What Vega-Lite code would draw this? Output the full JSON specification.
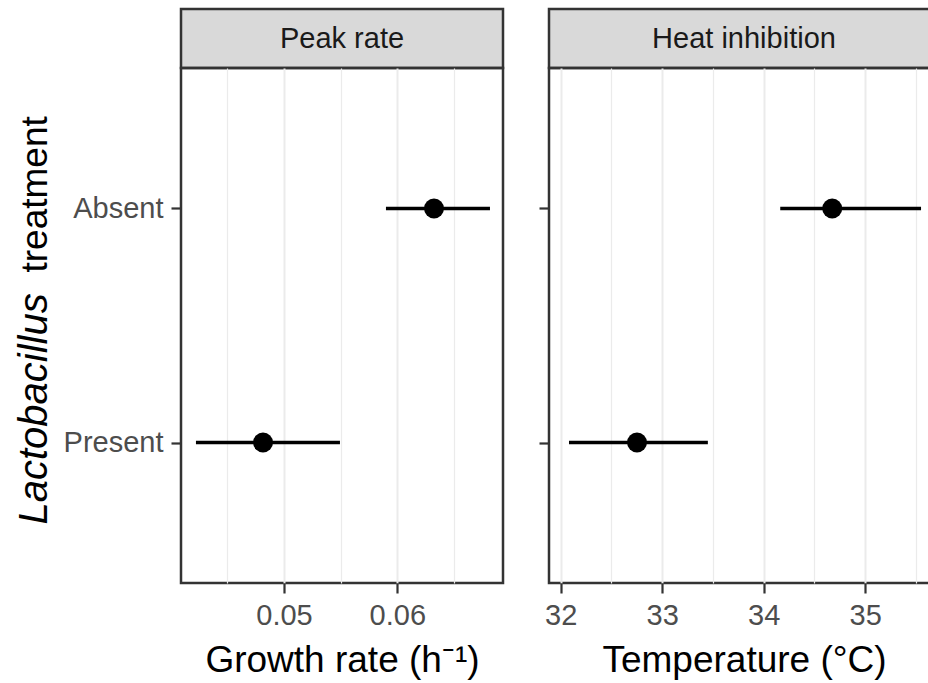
{
  "$schema": "https://vega.github.io/schema/vega-lite/v6.json",
  "padding": {"left": 12, "top": 7, "right": 0, "bottom": 5},
  "background": "white",
  "spacing": 31,
  "config": {
    "font": "Liberation Sans",
    "axis": {
      "labelFont": "Liberation Sans",
      "titleFont": "Liberation Sans",
      "labelFontSize": 29,
      "labelColor": "#4d4d4d",
      "titleFontSize": 37,
      "titleColor": "#000000",
      "titleFontWeight": "normal",
      "tickColor": "#333333",
      "tickWidth": 2.2,
      "tickSize": 10,
      "labelPadding": 8,
      "domain": false,
      "gridColor": "#ebebeb",
      "gridWidth": 2
    },
    "view": {"stroke": "#333333", "strokeWidth": 2.5}
  },
  "datasets": {
    "peak": [
      {"treatment": "Absent", "estimate": 0.06324, "lower": 0.05900, "upper": 0.06818},
      {"treatment": "Present", "estimate": 0.04815, "lower": 0.04223, "upper": 0.05494}
    ],
    "heat": [
      {"treatment": "Absent", "estimate": 34.675, "lower": 34.163, "upper": 35.55},
      {"treatment": "Present", "estimate": 32.752, "lower": 32.082, "upper": 33.45}
    ],
    "strip1": [{"panel": "Peak rate"}],
    "strip2": [{"panel": "Heat inhibition"}]
  },
  "hconcat": [
    {
      "bounds": "flush",
      "spacing": 0,
      "vconcat": [
        {
          "width": 322,
          "height": 59,
          "data": {"name": "strip1"},
          "view": {"fill": "#d9d9d9", "stroke": "#333333", "strokeWidth": 2.5},
          "mark": {"type": "text", "fontSize": 29, "color": "#1a1a1a", "font": "Liberation Sans", "baseline": "middle"},
          "encoding": {
            "text": {"field": "panel"},
            "y": {
              "field": "panel", "type": "nominal",
              "axis": {
                "labels": false, "ticks": false, "domain": false, "grid": false,
                "title": "treatment",
                "titleFontStyle": "normal",
                "titleAngle": -90,
                "titleAlign": "left",
                "titleBaseline": "alphabetic",
                "titleX": -135,
                "titleY": 263
              }
            }
          }
        },
        {
          "width": 322,
          "height": 515,
          "data": {"name": "peak"},
          "layer": [
            {
              "mark": {"type": "rule", "color": "black", "strokeWidth": 3.5},
              "encoding": {
                "x": {"field": "lower", "type": "quantitative"},
                "x2": {"field": "upper"},
                "y": {"field": "treatment", "type": "nominal"}
              }
            },
            {
              "mark": {"type": "point", "filled": true, "shape": "circle", "color": "black", "opacity": 1, "size": 400},
              "encoding": {
                "x": {
                  "field": "estimate", "type": "quantitative",
                  "scale": {"domain": [0.04091, 0.06933], "nice": false, "zero": false},
                  "axis": {
                    "title": "Growth rate (h⁻¹)",
                    "titlePadding": 12,
                    "values": [0.045, 0.05, 0.055, 0.06, 0.065],
                    "labelExpr": "round(datum.value*1000) % 10 == 0 ? format(datum.value, '.2f') : ''",
                    "tickOpacity": {"condition": {"test": "round(datum.value*1000) % 10 != 0", "value": 0}, "value": 1},
                    "gridWidth": {"condition": {"test": "round(datum.value*1000) % 10 != 0", "value": 1.2}, "value": 2}
                  }
                },
                "y": {
                  "field": "treatment", "type": "nominal",
                  "scale": {"type": "point", "domain": ["Absent", "Present"], "padding": 0.6},
                  "axis": {
                    "title": "Lactobacillus",
                    "titleFontStyle": "italic",
                    "titleFontSize": 40,
                    "titleAngle": -90,
                    "titleAlign": "left",
                    "titleBaseline": "alphabetic",
                    "titleX": -135,
                    "titleY": 456
                  }
                }
              }
            }
          ]
        }
      ]
    },
    {
      "bounds": "flush",
      "spacing": 0,
      "vconcat": [
        {
          "width": 390,
          "height": 59,
          "data": {"name": "strip2"},
          "view": {"fill": "#d9d9d9", "stroke": "#333333", "strokeWidth": 2.5},
          "mark": {"type": "text", "fontSize": 29, "color": "#1a1a1a", "font": "Liberation Sans", "baseline": "middle"},
          "encoding": {
            "text": {"field": "panel"},
            "y": {"field": "panel", "type": "nominal", "axis": null}
          }
        },
        {
          "width": 390,
          "height": 515,
          "data": {"name": "heat"},
          "layer": [
            {
              "mark": {"type": "rule", "color": "black", "strokeWidth": 3.5},
              "encoding": {
                "x": {"field": "lower", "type": "quantitative"},
                "x2": {"field": "upper"},
                "y": {"field": "treatment", "type": "nominal"}
              }
            },
            {
              "mark": {"type": "point", "filled": true, "shape": "circle", "color": "black", "opacity": 1, "size": 400},
              "encoding": {
                "x": {
                  "field": "estimate", "type": "quantitative",
                  "scale": {"domain": [31.885, 35.727], "nice": false, "zero": false},
                  "axis": {
                    "title": "Temperature (°C)",
                    "titlePadding": 12,
                    "values": [32, 32.5, 33, 33.5, 34, 34.5, 35, 35.5],
                    "labelExpr": "datum.value % 1 == 0 ? format(datum.value, 'd') : ''",
                    "tickOpacity": {"condition": {"test": "datum.value % 1 != 0", "value": 0}, "value": 1},
                    "gridWidth": {"condition": {"test": "datum.value % 1 != 0", "value": 1.2}, "value": 2}
                  }
                },
                "y": {
                  "field": "treatment", "type": "nominal",
                  "scale": {"type": "point", "domain": ["Absent", "Present"], "padding": 0.6},
                  "axis": {"labels": false, "title": null}
                }
              }
            }
          ]
        }
      ]
    }
  ]
}
